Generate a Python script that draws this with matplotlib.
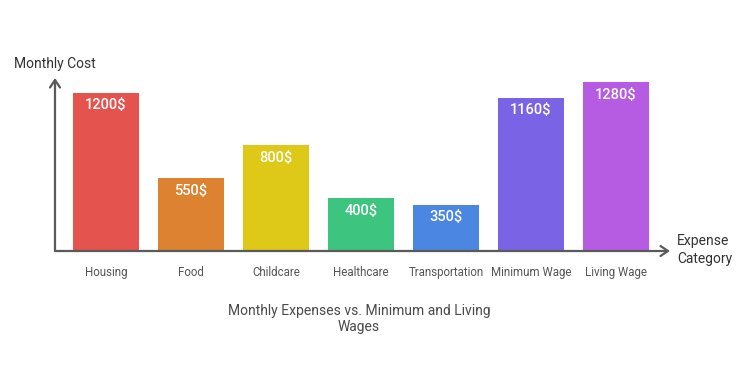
import matplotlib.pyplot as plt

categories = ["Housing", "Food", "Childcare", "Healthcare", "Transportation",
              "Minimum Wage", "Living Wage"]
costs = [1200, 550, 800, 400, 350, 1160, 1280]
value_labels = ["1200$", "550$", "800$", "400$", "350$", "1160$", "1280$"]
colors = ["#E5534F", "#DD8230", "#DEC818", "#3DC57F", "#4A86E2", "#7B63E6", "#B55CE2"]

plt.rcParams['font.family'] = ['Roboto', 'DejaVu Sans']

fig = plt.figure(figsize=(7.5, 3.75), dpi=100)
# axes placed so the axis lines land where the reference has them
ax = fig.add_axes([55 / 750, 124 / 375, 615 / 750, 173 / 375])

x = list(range(len(categories)))
ax.bar(x, costs, width=0.776, color=colors)
ax.set_xlim(-0.6, 6.635)
ax.set_ylim(0, 1311)

for xi, c, lab in zip(x, costs, value_labels):
    ax.text(xi, c - 42, lab, ha="center", va="top", color="white",
            fontsize=10.5, fontweight="medium")

for s in ax.spines.values():
    s.set_visible(False)
ax.set_xticks([])
ax.set_yticks([])

axis_col = "#5a5a5a"
arrow = dict(arrowstyle="->,head_length=0.45,head_width=0.3", color=axis_col,
             lw=1.6, shrinkA=0, shrinkB=0, mutation_scale=12)
ax.annotate("", xy=(0, 1.0), xytext=(0, 0), xycoords="axes fraction", arrowprops=arrow)
ax.annotate("", xy=(1.0, 0), xytext=(0, 0), xycoords="axes fraction", arrowprops=arrow)

for xi, name in zip(x, categories):
    ax.text(xi, -160, name, ha="center", va="center", color="#555555", fontsize=8.3)

fig.text(14 / 750, 1 - 64 / 375, "Monthly Cost", ha="left", va="center",
         fontsize=10, color="#333333")
fig.text(677 / 750, 1 - 250 / 375, "Expense\nCategory", ha="left", va="center",
         fontsize=10, color="#333333", linespacing=1.3)
fig.text(359 / 750, 1 - 319 / 375, "Monthly Expenses vs. Minimum and Living\nWages",
         ha="center", va="center", fontsize=10, color="#4a4a4a", linespacing=1.25)

fig.savefig("out.png", dpi=100)
